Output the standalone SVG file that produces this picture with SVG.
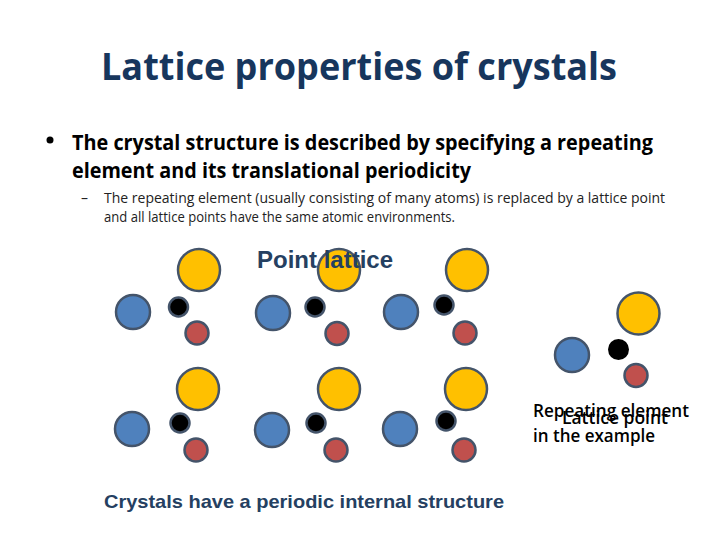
<svg xmlns="http://www.w3.org/2000/svg" width="720" height="540" viewBox="0 0 720 540">
<style>
text{font-family:"Open Sans","Noto Sans","Liberation Sans",sans-serif;fill:#000}
.title{font-size:38px;font-weight:700;fill:#17365d}
.b{font-size:22px;font-weight:700}
.s{font-size:14px;fill:#222}
.l{font-family:"Liberation Sans",Arial,sans-serif;font-weight:700}
.n{font-size:18px;font-weight:600}
circle{stroke:#44546a;stroke-width:2.5}
.y{fill:#ffc000;r:21px}
.u{fill:#4f81bd;r:17px}
.k{fill:#000;r:9.5px}
.r{fill:#c0504d;r:11.5px}
</style>
<rect width="720" height="540" fill="#fff"/>
<g id="title"><text class="title" x="101" y="80" textLength="516" lengthAdjust="spacingAndGlyphs">Lattice properties of crystals</text></g>
<g id="body">
<circle cx="50" cy="140" r="3.5" style="fill:#000;stroke:none"/>
<text class="b" x="72" y="150" textLength="581" lengthAdjust="spacingAndGlyphs">The crystal structure is described by specifying a repeating</text>
<text class="b" x="72" y="178" textLength="399" lengthAdjust="spacingAndGlyphs">element and its translational periodicity</text>
<text class="s" x="81" y="203">–</text>
<text class="s" x="104" y="203" textLength="561" lengthAdjust="spacingAndGlyphs">The repeating element (usually consisting of many atoms) is replaced by a lattice point</text>
<text class="s" x="104" y="222" textLength="351" lengthAdjust="spacingAndGlyphs">and all lattice points have the same atomic environments.</text>
</g>
<g id="lattice">
<circle class="y" cx="199" cy="270"/><circle class="y" cx="339" cy="270"/><circle class="y" cx="467" cy="270"/>
<circle class="u" cx="133" cy="312"/><circle class="u" cx="273" cy="313"/><circle class="u" cx="401" cy="312"/>
<circle class="k" cx="178.500" cy="307"/><circle class="k" cx="315" cy="307"/><circle class="k" cx="444" cy="305"/>
<circle class="r" cx="197" cy="333"/><circle class="r" cx="337" cy="333.500"/><circle class="r" cx="465" cy="333"/>
<circle class="y" cx="198" cy="389"/><circle class="y" cx="339" cy="389"/><circle class="y" cx="466" cy="389"/>
<circle class="u" cx="132" cy="429"/><circle class="u" cx="272" cy="430"/><circle class="u" cx="400" cy="429"/>
<circle class="k" cx="180" cy="423"/><circle class="k" cx="316" cy="423"/><circle class="k" cx="446" cy="421"/>
<circle class="r" cx="196" cy="450"/><circle class="r" cx="336" cy="450"/><circle class="r" cx="464" cy="450"/>
</g>
<g id="point-lattice-label"><text class="l" x="257" y="268" font-size="23" style="fill:#254061" textLength="136" lengthAdjust="spacingAndGlyphs">Point lattice</text></g>
<g id="repeating-element">
<circle class="y" cx="638.500" cy="313.500"/><circle class="u" cx="572" cy="355"/>
<circle cx="618.500" cy="349.500" r="10.500" style="fill:#000;stroke:none"/>
<circle class="r" cx="636" cy="375.500"/>
</g>
<g id="labels">
<text class="n" x="533" y="417" textLength="156" lengthAdjust="spacingAndGlyphs">Repeating element</text>
<text class="n" x="533" y="442" textLength="122" lengthAdjust="spacingAndGlyphs">in the example</text>
<text class="n" x="562" y="424" textLength="106" lengthAdjust="spacingAndGlyphs">Lattice point</text>
</g>
<g id="caption"><text class="l" x="104" y="508" font-size="18.500" style="fill:#254061" textLength="400" lengthAdjust="spacingAndGlyphs">Crystals have a periodic internal structure</text></g>
</svg>
